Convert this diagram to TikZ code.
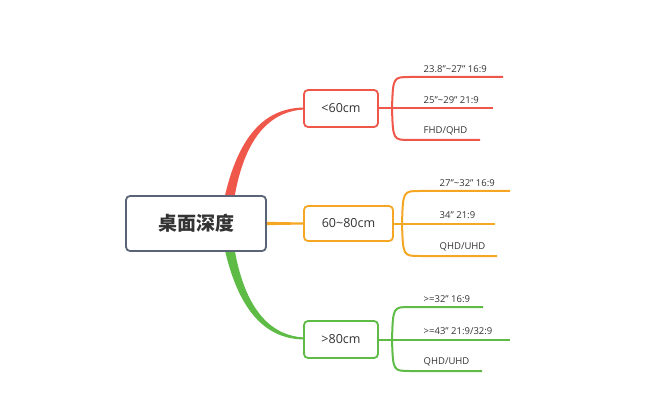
\documentclass[tikz,border=0pt]{standalone}
\usepackage{fontspec}
\setmainfont{Open Sans}
\newfontfamily\cjk{Noto Sans CJK SC}
\begin{document}
\begin{tikzpicture}[x=1pt,y=-1pt,
  rootbox/.style={draw=rootc,line width=1.8pt,rounded corners=4pt,fill=white,minimum width=140pt,minimum height=55pt,font=\cjk\fontsize{19}{22}\selectfont\bfseries\color{textc}},
  br/.style={draw=#1,line width=1.8pt,rounded corners=4pt,fill=white,minimum height=37pt,font=\fontsize{12.5}{14}\selectfont\color{textc}},
  leaf/.style={font=\fontsize{9.5}{11}\selectfont\color{textc},anchor=south west,inner sep=1.5pt},
  ln/.style={draw=#1,line width=2pt}]
\definecolor{rootc}{HTML}{5B6477}
\definecolor{textc}{HTML}{333333}
\definecolor{redc}{HTML}{F0574B}
\definecolor{orc}{HTML}{F5A623}
\definecolor{grc}{HTML}{5DBB46}
\useasboundingbox (0,0) rectangle (650,414);
% tapered branches
\fill[redc] (224,200) .. controls (240,126) and (272,108) .. (304,107.5) -- (304,109.5) .. controls (274,111) and (245,132) .. (234,200) -- cycle;
\fill[grc] (224,246) .. controls (240,320) and (272,339) .. (304,339.5) -- (304,337.5) .. controls (274,336) and (245,314) .. (234,246) -- cycle;
\fill[orc] (250,221.5) -- (304,222.5) -- (304,224.5) -- (250,225.5) -- cycle;
\node[rootbox] (root) at (196,223.5) {桌面深度};
\node[br=redc,minimum width=74pt] (a) at (341,108.5) {<60cm};
\node[br=orc,minimum width=89pt,minimum height=35pt] (b) at (348.5,223.5) {60\textasciitilde80cm};
\node[br=grc,minimum width=74pt] (c) at (341,339.5) {>80cm};
% red leaves
\coordinate (a0) at (392,108.5);
\draw[ln=redc] (a.east) -- (a0);
\coordinate (a1) at (503,77); \coordinate (a2) at (493,108.5); \coordinate (a3) at (480,140);
\draw[ln=redc] (a0) .. controls (393,77) .. (410,77) -- (a1);
\draw[ln=redc] (a0) -- (a2);
\draw[ln=redc] (a0) .. controls (393,140) .. (410,140) -- (a3);
\node[leaf] (la1) at (422,74) {23.8"\textasciitilde27" 16:9};
\node[leaf] (la2) at (422,105.5) {25"\textasciitilde29" 21:9};
\node[leaf] (la3) at (422,137) {FHD/QHD};
% orange leaves
\coordinate (b0) at (402,223.5);
\draw[ln=orc] (b.east) -- (b0);
\coordinate (b1) at (510,191); \coordinate (b2) at (495,223.5); \coordinate (b3) at (497,256);
\draw[ln=orc] (b0) .. controls (403,191) .. (420,191) -- (b1);
\draw[ln=orc] (b0) -- (b2);
\draw[ln=orc] (b0) .. controls (403,256) .. (420,256) -- (b3);
\node[leaf] (lb1) at (438,188) {27"\textasciitilde32" 16:9};
\node[leaf] (lb2) at (438,220.5) {34" 21:9};
\node[leaf] (lb3) at (438,253) {QHD/UHD};
% green leaves
\coordinate (c0) at (392,339.5);
\draw[ln=grc] (c.east) -- (c0);
\coordinate (c1) at (483,307); \coordinate (c2) at (510,339.5); \coordinate (c3) at (482,371);
\draw[ln=grc] (c0) .. controls (393,307) .. (410,307) -- (c1);
\draw[ln=grc] (c0) -- (c2);
\draw[ln=grc] (c0) .. controls (393,371) .. (410,371) -- (c3);
\node[leaf] (lc1) at (422,304) {>=32" 16:9};
\node[leaf] (lc2) at (422,336.5) {>=43" 21:9/32:9};
\node[leaf] (lc3) at (422,368) {QHD/UHD};
\end{tikzpicture}
\end{document}
